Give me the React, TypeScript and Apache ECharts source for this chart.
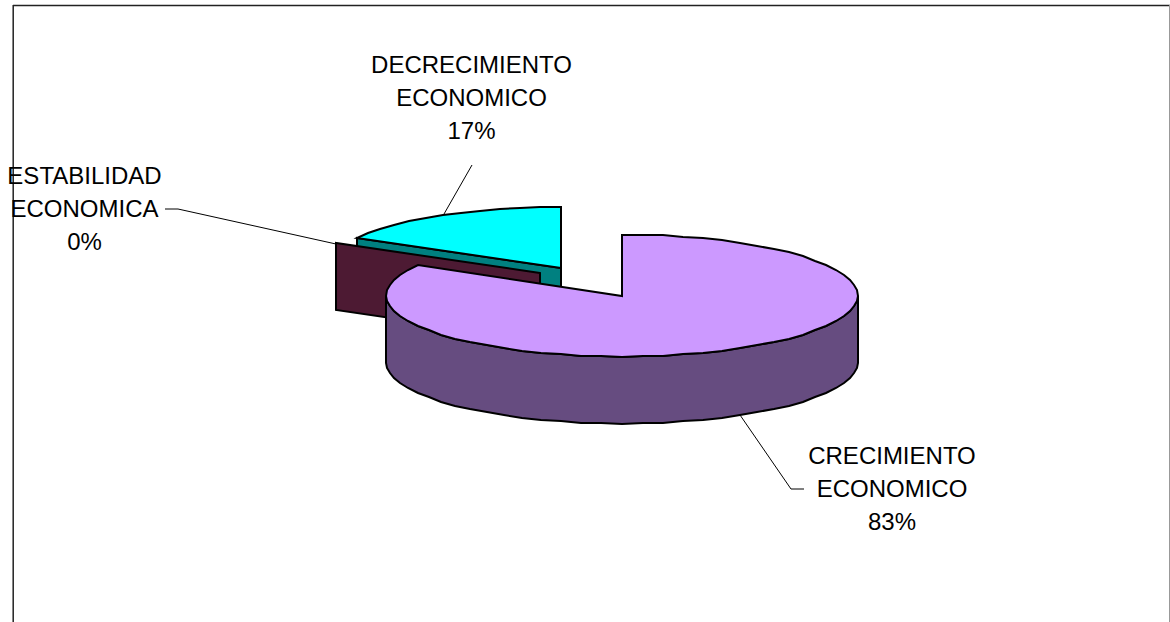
import React, { useEffect, useRef } from "react";
import * as echarts from "echarts";

const categories = ["CRECIMIENTO\nECONOMICO", "ESTABILIDAD\nECONOMICA", "DECRECIMIENTO\nECONOMICO"];
const percents = [83.33, 0, 16.67];

const topColors = ["#CC99FF", "#993366", "#00FFFF"];
const sideColors = ["#664C80", "#4D1A33", "#008080"];
const explodeOffsets = [[0, 0], [-82, -22.5], [-61, -27.4]];
const labelCenters = [[892, 488], [84.5, 208], [471.5, 97]];
const leaderLines = [
  [[740, 415], [791, 489], [804, 489]],
  [[336, 244], [178, 209], [165, 209]],
  [[444, 214], [472, 165]],
];
const drawOrder = [2, 1, 0];

const CX = 622;
const CY = 295.5;
const RX = 236;
const RY = 61;
const DEPTH = 67;
const STEP = 5;

function pt(a: number, ox: number, oy: number, dy = 0) {
  const r = (a * Math.PI) / 180;
  return [Math.round(CX + ox + RX * Math.sin(r)), Math.round(CY + oy - RY * Math.cos(r)) + dy];
}

function arc(a0: number, a1: number, ox: number, oy: number, dy = 0) {
  const out: number[][] = [];
  for (let a = a0; a < a1; a += STEP) out.push(pt(a, ox, oy, dy));
  out.push(pt(a1, ox, oy, dy));
  return out;
}

const stroke = { stroke: "#000", lineWidth: 2, lineJoin: "miter" as const };

function renderSlice(_: any, api: any) {
  const idx = api.value(0) as number;
  let start = 0;
  for (let i = 0; i < idx; i++) start += percents[i] * 3.6;
  const end = start + percents[idx] * 3.6;
  const [ox, oy] = explodeOffsets[idx];
  const apex = [CX + ox, Math.round(CY + oy)];
  const children: any[] = [];

  if (start > 180 && start < 360) {
    const p = pt(start, ox, oy);
    children.push({
      type: "polygon",
      shape: { points: [apex, p, [p[0], p[1] + DEPTH], [apex[0], apex[1] + DEPTH]] },
      style: { fill: sideColors[idx], ...stroke },
    });
  }
  const s0 = Math.max(start, 90);
  const s1 = Math.min(end, 270);
  if (s1 > s0) {
    const topEdge = arc(s0, s1, ox, oy);
    const bottomEdge = arc(s0, s1, ox, oy, DEPTH).reverse();
    children.push({
      type: "polygon",
      shape: { points: [...topEdge, ...bottomEdge] },
      style: { fill: sideColors[idx], ...stroke },
    });
  }
  if (end > start) {
    children.push({
      type: "polygon",
      shape: { points: [apex, ...arc(start, end, ox, oy)] },
      style: { fill: topColors[idx], ...stroke },
    });
  }
  children.push({
    type: "polyline",
    shape: { points: leaderLines[idx] },
    style: { stroke: "#000", lineWidth: 1, fill: "none" },
  });
  children.push({
    type: "text",
    style: {
      text: `${categories[idx]}\n${Math.round(percents[idx])}%`,
      x: labelCenters[idx][0],
      y: labelCenters[idx][1],
      align: "center",
      verticalAlign: "middle",
      fontFamily: "Liberation Sans",
      fontSize: 24,
      lineHeight: 33,
      fill: "#000",
    },
  });
  return { type: "group", children };
}

export default function App() {
  const ref = useRef<HTMLDivElement>(null);
  useEffect(() => {
    document.body.style.margin = "0";
    const chart = echarts.init(ref.current!, null, { renderer: "svg" });
    chart.setOption({
      animation: false,
      backgroundColor: "#fff",
      graphic: [
        { type: "line", shape: { x1: 13, y1: 5.5, x2: 1170, y2: 5.5 }, style: { stroke: "#222", lineWidth: 1.5 }, z: -1 },
        { type: "line", shape: { x1: 13.2, y1: 5, x2: 13.2, y2: 622 }, style: { stroke: "#222", lineWidth: 1.5 }, z: -1 },
        { type: "line", shape: { x1: 1169.5, y1: 5, x2: 1169.5, y2: 622 }, style: { stroke: "#999", lineWidth: 1 }, z: -1 },
      ],
      series: [
        {
          type: "custom",
          coordinateSystem: "none",
          renderItem: renderSlice,
          data: drawOrder.map((i) => [i, percents[i]]),
          silent: true,
        },
      ],
    });
    return () => chart.dispose();
  }, []);
  return <div ref={ref} style={{ width: 1170, height: 622 }} />;
}
